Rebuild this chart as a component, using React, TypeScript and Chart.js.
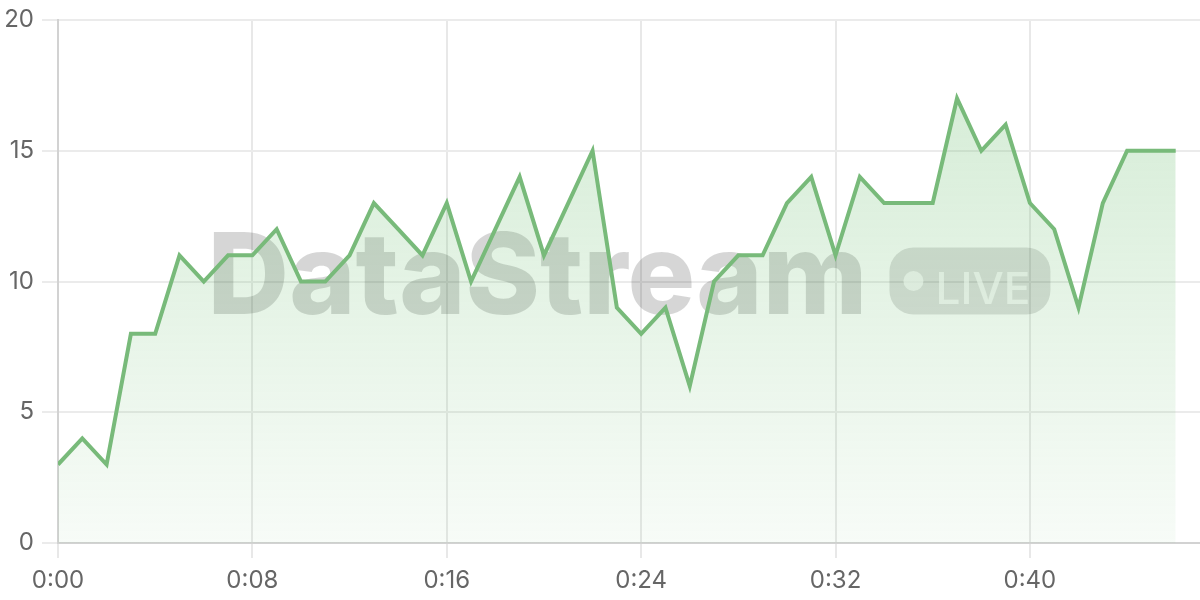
import { Chart, registerables } from "chart.js";
import { useEffect, useRef } from "react";

Chart.register(...registerables);

// seconds since start
const seconds = [
  0, 1, 2, 3, 4, 5, 6, 7, 8, 9, 10, 11, 12, 13, 14, 15, 16, 17, 18, 19, 20, 21, 22, 23,
  24, 25, 26, 27, 28, 29, 30, 31, 32, 33, 34, 35, 36, 37, 38, 39, 40, 41, 42, 43, 44, 45, 46,
];
const values = [
  3, 4, 3, 8, 8, 11, 10, 11, 11, 12, 10, 10, 11, 13, 12, 11, 13, 10, 12, 14, 11, 13, 15, 9,
  8, 9, 6, 10, 11, 11, 13, 14, 11, 14, 13, 13, 13, 17, 15, 16, 13, 12, 9, 13, 15, 15, 15,
];
const yTicks = [0, 5, 10, 15, 20];
const xTicks = [0, 8, 16, 24, 32, 40];

const fmtTime = (v: number) => `${Math.floor(v / 60)}:${String(v % 60).padStart(2, "0")}`;

const watermark = {
  id: "watermark",
  beforeDatasetsDraw(chart: any) {
    const { ctx, chartArea } = chart;
    const cx = (chartArea.left + chartArea.right) / 2;
    const cy = (chartArea.top + chartArea.bottom) / 2;
    ctx.save();
    ctx.font = "800 100px Inter";
    const w100 = ctx.measureText("DataStream").width;
    const size = (100 * 660) / w100;
    ctx.font = `800 ${size}px Inter`;
    const textW = ctx.measureText("DataStream").width;
    const gap = 22;
    const pillW = 161;
    const pillH = 67;
    const total = textW + gap + pillW;
    const x0 = cx - total / 2;
    const base = cy + 32;
    ctx.fillStyle = "rgba(0,0,0,0.16)";
    ctx.textBaseline = "alphabetic";
    ctx.textAlign = "left";
    ctx.fillText("DataStream", x0, base);

    const px = x0 + textW + gap;
    const py = cy - 34;
    ctx.beginPath();
    ctx.roundRect(px, py, pillW, pillH, 24);
    ctx.fillStyle = "rgba(0,0,0,0.13)";
    ctx.fill();

    ctx.fillStyle = "rgba(255,255,255,0.7)";
    ctx.beginPath();
    ctx.arc(px + 24, py + pillH / 2, 10, 0, Math.PI * 2);
    ctx.fill();
    ctx.font = "500 50px Inter";
    const lw = ctx.measureText("LIVE").width;
    const ls = (50 * 95) / lw;
    ctx.font = `500 ${ls}px Inter`;
    ctx.fillText("LIVE", px + 46, py + 56);
    ctx.restore();
  },
};

const App = () => {
  const canvasRef = useRef<HTMLCanvasElement>(null);

  useEffect(() => {
    document.body.style.margin = "0";
    const config: any = {
      type: "line",
      data: {
        datasets: [
          {
            label: "stream",
            data: seconds.map((s, i) => ({ x: s, y: values[i] })),
            borderColor: "rgb(120,186,122)",
            borderWidth: 4,
            pointRadius: 0,
            tension: 0,
            fill: "origin",
            backgroundColor: (c: any) => {
              const area = c.chart.chartArea;
              if (!area) return "rgba(102,187,106,0.15)";
              const g = c.chart.ctx.createLinearGradient(0, area.top, 0, area.bottom);
              g.addColorStop(0, "rgba(102,187,106,0.3)");
              g.addColorStop(1, "rgba(102,187,106,0.05)");
              return g;
            },
          },
        ],
      },
      options: {
        animation: false,
        responsive: true,
        maintainAspectRatio: false,
        layout: { padding: { top: 0, left: 0, right: 0, bottom: 0 } },
        plugins: { legend: { display: false }, tooltip: { enabled: false } },
        scales: {
          x: {
            type: "linear",
            min: 0,
            max: 47,
            afterBuildTicks: (axis: any) => {
              axis.ticks = xTicks.map((v) => ({ value: v }));
            },
            afterFit: (axis: any) => {
              axis.height = 57;
            },
            ticks: {
              callback: (v: any) => fmtTime(Number(v)),
              font: { family: "Inter", size: 24 },
              color: "#666",
              padding: 8,
              maxRotation: 0,
            },
            grid: { color: "#e8e8e8", lineWidth: 2, tickLength: 15 },
            border: { color: "#d2d2d2", width: 2 },
          },
          y: {
            min: 0,
            max: 20,
            afterBuildTicks: (axis: any) => {
              axis.ticks = yTicks.map((v) => ({ value: v }));
            },
            afterFit: (axis: any) => {
              axis.width = 58;
              axis.paddingTop = 20;
            },
            ticks: {
              font: { family: "Inter", size: 24 },
              color: "#666",
              padding: 8,
            },
            grid: { color: "#ebebeb", lineWidth: 2, tickLength: 16 },
            border: { color: "#d2d2d2", width: 2 },
          },
        },
      },
      plugins: [watermark],
    };
    const chart = new Chart(canvasRef.current as HTMLCanvasElement, config);
    return () => {
      chart.destroy();
    };
  }, []);

  return (
    <div style={{ width: 1200, height: 600, position: "relative" }}>
      <canvas ref={canvasRef} />
    </div>
  );
};

export default App;
